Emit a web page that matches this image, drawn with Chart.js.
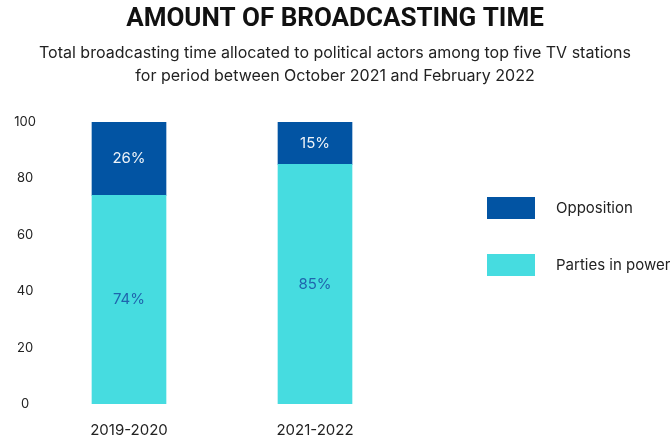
<!DOCTYPE html>
<html lang="en">
<head>
    <meta charset="UTF-8">
    <title>Amount of Broadcasting Time</title>
    <script src="https://cdn.jsdelivr.net/npm/chart.js"></script>
    <style>
        body { margin: 0; background: #ffffff; }
        .chart-box { width: 670px; height: 439px; }
    </style>
</head>
<body>
<div class="chart-box">
    <canvas id="broadcastChart"></canvas>
</div>

<script>
    // chart data
    const periods = ['2019-2020', '2021-2022'];
    const partiesInPower = [74, 85];
    const opposition = [26, 15];
    const yTicks = [0, 20, 40, 60, 80, 100];

    // draws the % label in the middle of every bar segment
    const segmentLabels = {
        id: 'segmentLabels',
        afterDatasetsDraw(chart) {
            const ctx = chart.ctx;
            ctx.save();
            ctx.font = '15px Inter, "Open Sans", sans-serif';
            ctx.textAlign = 'center';
            ctx.textBaseline = 'middle';
            chart.data.datasets.forEach((ds, i) => {
                chart.getDatasetMeta(i).data.forEach((bar, j) => {
                    const mid = (bar.y + bar.base) / 2;
                    ctx.fillStyle = ds.labelColor;
                    ctx.fillText(ds.data[j] + '%', bar.x, mid);
                });
            });
            ctx.restore();
        }
    };

    // legend on the right, opposition on top
    const sideLegend = {
        id: 'sideLegend',
        afterDraw(chart, args, opts) {
            const ctx = chart.ctx;
            ctx.save();
            ctx.font = '15px Inter, "Open Sans", sans-serif';
            ctx.textBaseline = 'middle';
            const order = [1, 0];
            order.forEach((dsIndex, k) => {
                const ds = chart.data.datasets[dsIndex];
                const y = opts.top + k * opts.gap;
                ctx.fillStyle = ds.backgroundColor;
                ctx.fillRect(opts.left, y, 48, 22);
                ctx.fillStyle = '#222222';
                ctx.fillText(ds.label, opts.left + 69, y + 11);
            });
            ctx.restore();
        }
    };

    const ctx = document.getElementById('broadcastChart').getContext('2d');
    new Chart(ctx, {
        type: 'bar',
        data: {
            labels: periods,
            datasets: [
                {
                    label: 'Parties in power',
                    data: partiesInPower,
                    backgroundColor: '#46dce0',
                    labelColor: '#1f64ad',
                    barThickness: 74
                },
                {
                    label: 'Opposition',
                    data: opposition,
                    backgroundColor: '#0254a3',
                    labelColor: '#eef3f8',
                    barThickness: 74
                }
            ]
        },
        options: {
            responsive: true,
            maintainAspectRatio: false,
            animation: false,
            layout: { padding: 0 },
            plugins: {
                legend: { display: false },
                tooltip: { enabled: false },
                title: {
                    display: true,
                    text: 'AMOUNT OF BROADCASTING TIME',
                    color: '#111111',
                    font: { family: 'Roboto', size: 26, weight: 'bold', lineHeight: 1.2 },
                    padding: { top: 4, bottom: 5 }
                },
                subtitle: {
                    display: true,
                    text: ['Total broadcasting time allocated to political actors among top five TV stations',
                           'for period between October 2021 and February 2022'],
                    color: '#222222',
                    font: { family: 'Inter', size: 16, lineHeight: 1.4 },
                    padding: { top: 2, bottom: 35 }
                },
                sideLegend: { left: 487, top: 197, gap: 57 }
            },
            scales: {
                x: {
                    stacked: true,
                    grid: { display: false, drawTicks: false },
                    border: { display: false },
                    afterFit(scale) { scale.height = 35; },
                    ticks: {
                        color: '#222222',
                        font: { family: 'Inter', size: 15 },
                        padding: 17
                    }
                },
                y: {
                    stacked: true,
                    min: 0,
                    max: 100,
                    grid: { display: false, drawTicks: false },
                    border: { display: false },
                    afterFit(scale) { scale.width = 36; },
                    afterBuildTicks(scale) { scale.ticks = yTicks.map(v => ({ value: v })); },
                    ticks: {
                        color: '#222222',
                        font: { family: 'Inter', size: 13 },
                        crossAlign: 'center',
                        padding: 0
                    }
                },
                // empty axis that keeps room for the legend on the right
                side: {
                    type: 'linear',
                    position: 'right',
                    display: true,
                    grid: { display: false, drawTicks: false },
                    border: { display: false },
                    ticks: { display: false },
                    afterFit(scale) { scale.width = 262; }
                }
            }
        },
        plugins: [segmentLabels, sideLegend]
    });
</script>
</body>
</html>
